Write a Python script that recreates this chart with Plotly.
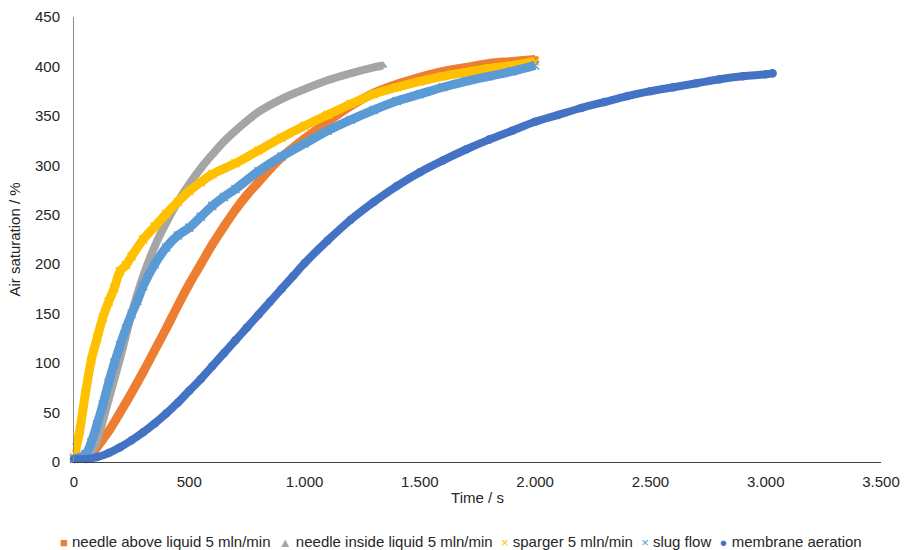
import plotly.graph_objects as go

# ---- data (time in s, air saturation in %) ----
t_orange = [0, 50, 75, 100, 150, 200, 250, 300, 350, 400, 450, 500, 550, 600, 650, 700, 750, 800, 850, 900,
            1000, 1100, 1200, 1300, 1400, 1500, 1600, 1700, 1800, 1900, 2000]
y_orange = [3, 4, 8, 15, 31, 50, 70, 91, 113, 135, 158, 180, 200, 220, 238, 255, 270, 283, 296, 308,
            327, 344, 360, 373, 382, 389, 395, 399, 403, 405, 407]

t_gray = [0, 50, 75, 100, 150, 200, 250, 300, 350, 400, 450, 500, 550, 600, 650, 700, 750, 800, 900,
          1000, 1100, 1200, 1300, 1340]
y_gray = [3, 5, 10, 22, 63, 105, 150, 188, 218, 242, 263, 281, 297, 311, 324, 335, 345, 354, 367,
          377, 386, 393, 399, 401]

t_yellow = [0, 10, 25, 50, 75, 100, 125, 150, 175, 200, 225, 250, 300, 350, 400, 450, 500, 550, 600,
            700, 800, 900, 1000, 1100, 1200, 1300, 1400, 1500, 1600, 1700, 1800, 1900, 2000]
y_yellow = [5, 15, 32, 70, 103, 125, 146, 162, 176, 193, 199, 208, 225, 238, 251, 263, 274, 283, 291,
            302, 315, 328, 340, 351, 362, 372, 379, 385, 390, 394, 398, 401, 405]

t_lblue = [0, 50, 75, 100, 125, 150, 175, 200, 225, 250, 275, 300, 350, 400, 450, 500, 550, 600, 650,
           700, 800, 900, 1000, 1100, 1200, 1300, 1400, 1500, 1600, 1700, 1800, 1900, 2000]
y_lblue = [3, 8, 20, 38, 58, 80, 100, 118, 135, 150, 163, 178, 200, 217, 229, 237, 248, 259, 268,
           276, 294, 309, 322, 335, 346, 356, 365, 372, 379, 385, 390, 395, 401]

t_membrane = [0, 50, 100, 150, 200, 250, 300, 350, 400, 450, 500, 550, 600, 650, 700, 750, 800, 850,
              900, 950, 1000, 1100, 1200, 1300, 1400, 1500, 1600, 1700, 1800, 1900, 2000, 2100, 2200,
              2300, 2400, 2500, 2600, 2700, 2800, 2900, 3000, 3030]
y_membrane = [3, 3, 5, 9, 15, 22, 30, 39, 49, 60, 72, 84, 97, 110, 123, 136, 149, 162,
              175, 188, 201, 224, 245, 263, 279, 293, 305, 316, 326, 335, 344, 351, 358,
              364, 370, 375, 379, 383, 387, 390, 392, 393]

names = ["needle above liquid 5 mln/min", "needle inside liquid 5 mln/min", "sparger 5 mln/min",
         "slug flow", "membrane aeration"]
colors = ["#ED7D31", "#A5A5A5", "#FFC000", "#5B9BD5", "#4472C4"]
symbols = ["square", "triangle-up", "x-thin", "x-thin", "circle"]
legend_glyphs = ["■", "▲", "×", "×", "●"]
widths = [9, 8, 9, 9, 8]
marker_sizes = [5, 6, 8, 8, 7]

x_ticks = [0, 500, 1000, 1500, 2000, 2500, 3000, 3500]
y_ticks = [0, 50, 100, 150, 200, 250, 300, 350, 400, 450]

series = [(t_orange, y_orange), (t_gray, y_gray), (t_yellow, y_yellow), (t_lblue, y_lblue),
          (t_membrane, y_membrane)]

fig = go.Figure()
for i, (tx, ty) in enumerate(series):
    fig.add_trace(go.Scatter(x=tx, y=ty, mode="lines", name=names[i], showlegend=False,
                             cliponaxis=False, hoverinfo="skip",
                             line=dict(color=colors[i], width=widths[i], shape="spline")))
    fig.add_trace(go.Scatter(x=tx, y=ty, mode="markers", name=names[i], showlegend=False,
                             cliponaxis=False,
                             marker=dict(color=colors[i], size=marker_sizes[i], symbol=symbols[i],
                                         line=dict(color=colors[i], width=1.5))))

# legend drawn as one line of text with coloured glyphs (as in the reference)
parts = []
for g, c, n in zip(legend_glyphs, colors, names):
    parts.append(f"<span style='color:{c};font-size:13px'>{g}</span> {n}")
legend_text = "  ".join(parts)

font_family = "Liberation Sans, Arial, sans-serif"
fig.update_layout(
    width=905, height=550,
    margin=dict(l=74, r=24, t=17, b=88, autoexpand=False),
    paper_bgcolor="white", plot_bgcolor="white",
    separators=",.",
    font=dict(family=font_family, size=15, color="#262626"),
    xaxis=dict(range=[0, 3500], tickvals=x_ticks, tickformat=",d", separatethousands=True,
               showgrid=False, zeroline=False, showline=True, linecolor="#404040", linewidth=1,
               ticks="", ticklabelstandoff=6,
               title=dict(text="Time / s", standoff=3, font=dict(size=15))),
    yaxis=dict(range=[0, 450], tickvals=y_ticks, showgrid=False, zeroline=False,
               showline=True, linecolor="#8C8C8C", linewidth=1, ticks="", ticklabelstandoff=10,
               title=dict(text="Air saturation / %", standoff=10, font=dict(size=15))),
    showlegend=False,
    annotations=[dict(text=legend_text, xref="paper", yref="paper", x=0.48, y=-0.178,
                      xanchor="center", yanchor="middle", showarrow=False,
                      font=dict(family=font_family, size=15, color="#262626"))],
)

fig.write_html("out.html")
